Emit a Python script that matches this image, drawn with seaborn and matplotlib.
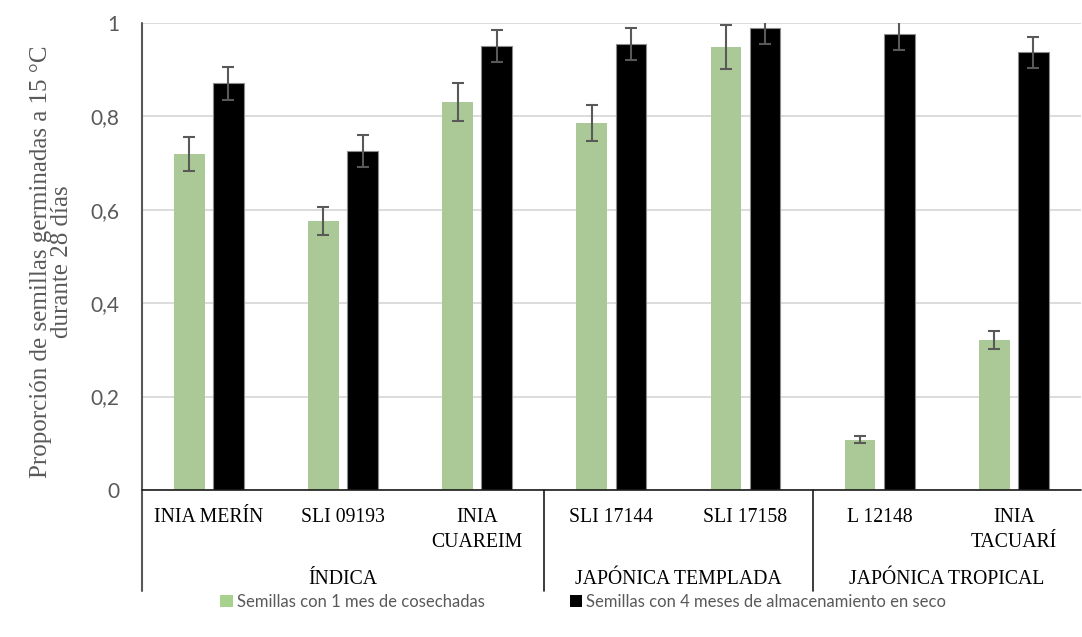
import matplotlib
matplotlib.use("Agg")
import matplotlib.pyplot as plt
import matplotlib.transforms as mtransforms
from matplotlib.patches import Patch
import pandas as pd
import seaborn as sns

# Germination data (proportion at 15 °C over 28 days)
variedades = ["INIA MERÍN", "SLI 09193", "INIA\nCUAREIM", "SLI 17144",
              "SLI 17158", "L 12148", "INIA\nTACUARÍ"]
grupos = ["ÍNDICA", "JAPÓNICA TEMPLADA", "JAPÓNICA TROPICAL"]
grupo_tamanos = [3, 2, 2]
series = ["Semillas con 1 mes de cosechadas",
          "Semillas con 4 meses de almacenamiento en seco"]
cosecha_1mes = [0.719, 0.575, 0.831, 0.786, 0.948, 0.108, 0.321]
cosecha_1mes_err = [0.036, 0.030, 0.041, 0.039, 0.047, 0.007, 0.019]
almacen_4meses = [0.871, 0.726, 0.951, 0.955, 0.989, 0.977, 0.937]
almacen_4meses_err = [0.035, 0.035, 0.035, 0.035, 0.034, 0.035, 0.033]
y_ticks = [0, 0.2, 0.4, 0.6, 0.8, 1.0]
y_tick_labels = ["0", "0,2", "0,4", "0,6", "0,8", "1"]

verde = "#A9D18E"
negro = "#000000"
gris = "#595959"

df = pd.DataFrame({
    "variedad": variedades * 2,
    "serie": [series[0]] * len(variedades) + [series[1]] * len(variedades),
    "valor": cosecha_1mes + almacen_4meses,
    "err": cosecha_1mes_err + almacen_4meses_err,
})

sns.set_style("white")
plt.rcParams["font.family"] = ["Lato", "DejaVu Sans"]

fig = plt.figure(figsize=(10.82, 6.37), dpi=100)
ax = fig.add_axes([0.131, 0.2308, 0.868, 0.7331])

sns.barplot(data=df, x="variedad", y="valor", hue="serie",
            order=variedades, hue_order=series, palette=[verde, negro],
            width=0.584, gap=0.219, errorbar=None, legend=False,
            linewidth=0, ax=ax)

# error bars on top of each bar
errs = df["err"].tolist()
for p, e in zip(ax.patches, errs):
    xc = p.get_x() + p.get_width() / 2
    ax.errorbar(xc, p.get_height(), yerr=e, fmt="none", ecolor=gris,
                elinewidth=1.5, capsize=4.5, capthick=1.5, zorder=4)
for p in ax.patches[len(variedades):]:
    p.set_edgecolor("#8c8c8c")
    p.set_linewidth(0.8)

ax.set_xlim(-0.5, len(variedades) - 0.5)
ax.set_ylim(0, 1)
ax.set_yticks(y_ticks)
ax.set_yticklabels(y_tick_labels, color=gris, fontsize=15)
ax.tick_params(axis="y", length=0, pad=16)
ax.set_xticks([])
ax.set_xlabel("")
ax.set_ylabel("")
ax.yaxis.grid(True, color="#D9D9D9", linewidth=1.3)
ax.set_axisbelow(True)
for s in ax.spines.values():
    s.set_visible(False)

fig.text(51.5 / 1082, 1 - 262 / 637,
         "Proporción de semillas germinadas a 15 °C\ndurante 28 días",
         rotation=90, ha="center", va="center", multialignment="center",
         family="Liberation Serif", fontsize=18, color=gris, linespacing=0.95)

trans = mtransforms.blended_transform_factory(ax.transData, ax.transAxes)
fondo = -0.216
# axis lines and group separators of the two-level category axis
ax.plot([-0.5, -0.5], [1, fondo], transform=trans, color=gris, lw=1.5,
        clip_on=False)
ax.plot([-0.5, len(variedades) - 0.5], [0, 0], transform=trans,
        color="#1a1a1a", lw=1.2, clip_on=False, zorder=5)
inicio = 0
for n in grupo_tamanos[:-1]:
    inicio += n
    ax.plot([inicio - 0.5, inicio - 0.5], [0, fondo], transform=trans,
            color="#1a1a1a", lw=1.2, clip_on=False)

# category labels, one text per line so every first line shares a baseline
paso = 25 / 467
for i, v in enumerate(variedades):
    for k, linea in enumerate(v.split("\n")):
        ax.text(i, -0.0685 - k * paso, linea, transform=trans, ha="center",
                va="baseline", family="Liberation Serif", fontsize=14.2,
                color="black")
inicio = 0
for g, n in zip(grupos, grupo_tamanos):
    ax.text(inicio + (n - 1) / 2, -0.2013, g, transform=trans, ha="center",
            va="baseline", family="Liberation Serif", fontsize=14.2,
            color="black")
    inicio += n

handles = [Patch(facecolor=verde, edgecolor="none"),
           Patch(facecolor=negro, edgecolor="none")]
fig.legend(handles, series, loc="center", bbox_to_anchor=(0.539, 1 - 602 / 637),
           ncol=2, frameon=False, fontsize=12, labelcolor=gris,
           handlelength=0.75, handleheight=0.75, handletextpad=0.25,
           columnspacing=5.1)

fig.savefig("out.png", dpi=100)
